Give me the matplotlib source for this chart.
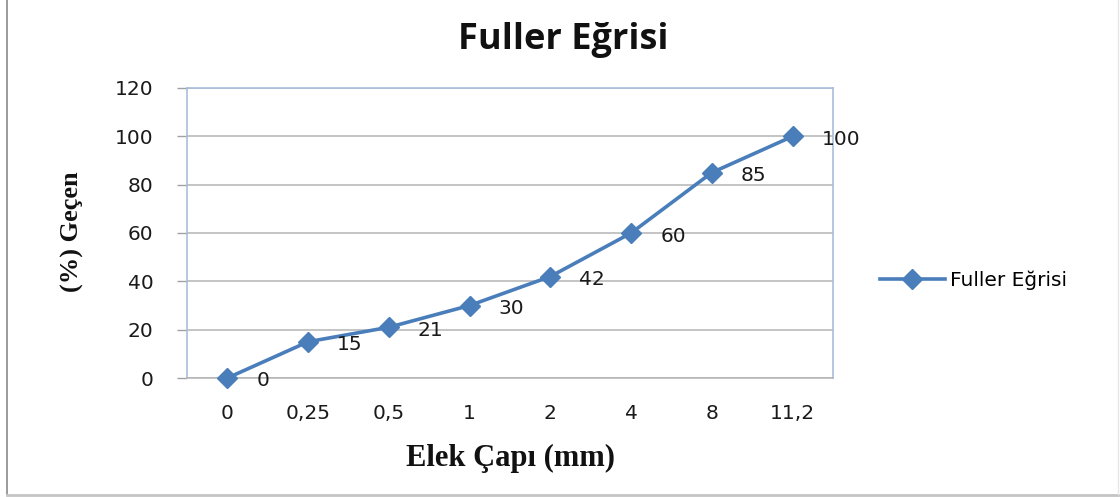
import matplotlib
matplotlib.use("Agg")
import matplotlib.pyplot as plt
from matplotlib.lines import Line2D

categories = ["0", "0,25", "0,5", "1", "2", "4", "8", "11,2"]
values = [0, 15, 21, 30, 42, 60, 85, 100]
y_ticks = [0, 20, 40, 60, 80, 100, 120]
series_name = "Fuller Eğrisi"
title = "Fuller Eğrisi"
xlabel = "Elek Çapı (mm)"
ylabel = "(%) Geçen"

W, H = 1120, 497
fig = plt.figure(figsize=(W / 100, H / 100), dpi=100)
fig.patch.set_facecolor("white")

# outer frame
fig.add_artist(Line2D([7 / W, 7 / W], [3 / H, 1.0], color="#8a8a8a", lw=1.2))
fig.add_artist(Line2D([7 / W, 1118 / W], [2.5 / H, 2.5 / H], color="#c4c4c4", lw=2.0))
fig.add_artist(Line2D([1118 / W, 1118 / W], [3 / H, 1.0], color="#e6e6e6", lw=1.0))

ax = fig.add_axes([187 / W, 1 - 378 / H, (833 - 187) / W, (378 - 88) / H])
line_color = "#4a7ebb"
x = list(range(len(categories)))
ax.plot(x, values, color=line_color, lw=2.6, marker="D", markersize=10,
        markeredgecolor=line_color, markerfacecolor=line_color, label=series_name,
        zorder=3, clip_on=False)

fs = 14.5
for xi, v in zip(x, values):
    ax.annotate(str(v), (xi, v), xytext=(29, -3), textcoords="offset pixels",
                ha="left", va="center", fontsize=fs, color="#1a1a1a",
                family="DejaVu Sans", zorder=4)

ax.set_xlim(-0.5, len(categories) - 0.5)
ax.set_ylim(0, 120)
ax.set_yticks(y_ticks)
ax.set_yticklabels([str(t) for t in y_ticks])
ax.set_xticks(x)
ax.set_xticklabels(categories)
ax.grid(axis="y", color="#b4b4b4", lw=1.1)
ax.set_axisbelow(True)

for s in ["left", "right", "top"]:
    ax.spines[s].set_color("#a9bddb")
    ax.spines[s].set_linewidth(1.2)
ax.spines["bottom"].set_color("#b4b4b4")
ax.spines["bottom"].set_linewidth(1.1)

ax.tick_params(axis="y", length=7, width=1.0, color="#a0a0a0", pad=17,
               labelsize=fs, labelcolor="#1a1a1a")
ax.tick_params(axis="x", length=0, pad=19, labelsize=fs, labelcolor="#1a1a1a")
for lab in ax.get_xticklabels() + ax.get_yticklabels():
    lab.set_family("DejaVu Sans")

fig.text(563 / W, 1 - 40 / H, title, ha="center", va="center",
         fontsize=26, fontweight="bold", family="Open Sans", color="#111111")
fig.text(72 / W, 1 - 232 / H, ylabel, ha="center", va="center", rotation=90,
         fontsize=19, fontweight="bold", family="Liberation Serif", color="#111111")
fig.text(510 / W, 1 - 458 / H, xlabel, ha="center", va="center",
         fontsize=22, fontweight="bold", family="Liberation Serif", color="#111111")

handles, labels = ax.get_legend_handles_labels()
leg = fig.legend(handles, labels, loc="center left",
                 bbox_to_anchor=(870 / W, 1 - 280 / H), frameon=False,
                 handlelength=3.2, handletextpad=0.25, borderpad=0,
                 prop={"family": "DejaVu Sans", "size": fs})

fig.savefig("out.png", dpi=100, facecolor="white")
